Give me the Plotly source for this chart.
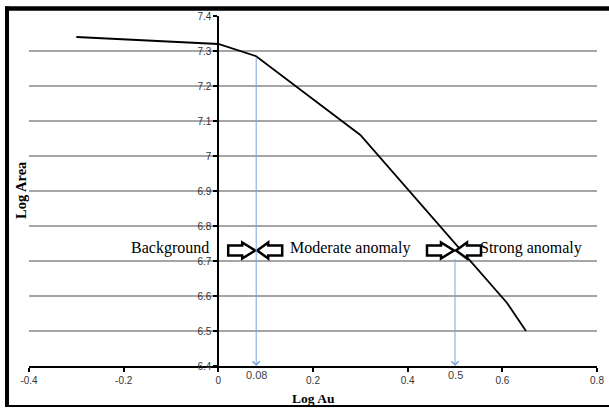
import plotly.graph_objects as go

# ---- data ----
log_au = [-0.3, 0.0, 0.08, 0.3, 0.61, 0.65]
log_area = [7.34, 7.32, 7.285, 7.06, 6.58, 6.50]

thresholds = [0.08, 0.5]
threshold_tops = [7.285, 6.71]
threshold_labels = ["0.08", "0.5"]

zone_labels = ["Background", "Moderate anomaly", "Strong anomaly"]
zone_label_x = [-0.015, 0.148, 0.549]
zone_label_y = 6.737

x_tickvals = [-0.4, -0.2, 0.0, 0.2, 0.4, 0.6, 0.8]
x_ticktext = ["-0.4", "-0.2", "0", "0.2", "0.4", "0.6", "0.8"]
y_tickvals = [6.4, 6.5, 6.6, 6.7, 6.8, 6.9, 7.0, 7.1, 7.2, 7.3, 7.4]
y_ticktext = ["6.4", "6.5", "6.6", "6.7", "6.8", "6.9", "7", "7.1", "7.2", "7.3", "7.4"]

X_RANGE = [-0.4, 0.8]
Y_RANGE = [6.4, 7.4]

W, H = 609, 408
ML, MR, MT, MB = 29, 12, 16, 42
PW, PH = W - ML - MR, H - MT - MB


def px_x(p):
    return (p - ML) / PW


def px_y(q):
    return (H - MB - q) / PH


fig = go.Figure()
fig.add_trace(go.Scatter(
    x=log_au, y=log_area, mode="lines",
    line=dict(color="black", width=1.8),
    showlegend=False, hoverinfo="skip",
))

annotations = []
shapes = []

# blue threshold arrows
for xv, top in zip(thresholds, threshold_tops):
    annotations.append(dict(
        x=xv, y=Y_RANGE[0], ax=xv, ay=top, xref="x", yref="y",
        axref="x", ayref="y", showarrow=True, arrowhead=4,
        arrowsize=1.4, arrowwidth=1, arrowcolor="#7aa5d8",
        standoff=0, startstandoff=0, text="",
    ))

# threshold value labels below axis
for xv, lab in zip(thresholds, threshold_labels):
    annotations.append(dict(
        x=xv, y=px_y(375), xref="x", yref="paper", text=lab,
        showarrow=False, xanchor="center", yanchor="middle",
        font=dict(family="Liberation Sans", size=11, color="#404040"),
    ))

# zone labels
anchors = ["right", "left", "left"]
for lab, xv, anc in zip(zone_labels, zone_label_x, anchors):
    annotations.append(dict(
        x=xv, y=zone_label_y, xref="x", yref="y", text=lab,
        showarrow=False, xanchor=anc, yanchor="middle",
        font=dict(family="Liberation Serif", size=16, color="black"),
    ))

# axis titles
annotations.append(dict(
    x=px_x(313), y=px_y(398), xref="paper", yref="paper", text="<b>Log Au</b>",
    showarrow=False, xanchor="center", yanchor="middle",
    font=dict(family="Liberation Serif", size=13.5, color="black"),
))
annotations.append(dict(
    x=px_x(21), y=px_y(190), xref="paper", yref="paper", text="<b>Log Area</b>",
    showarrow=False, xanchor="center", yanchor="middle", textangle=-90,
    font=dict(family="Liberation Serif", size=14.5, color="black"),
))

# hollow block arrows at each threshold
right_arrow = "M-28,-5 L-14,-5 L-14,-8 L-1,0 L-14,8 L-14,5 L-28,5 Z"
left_arrow = "M1,0 L12,-8 L12,-5 L26,-5 L26,5 L12,5 L12,8 Z"
for xv in thresholds:
    for pth in (right_arrow, left_arrow):
        shapes.append(dict(
            type="path", path=pth, xref="x", yref="y",
            xsizemode="pixel", ysizemode="pixel",
            xanchor=xv, yanchor=6.73,
            line=dict(color="black", width=2.5), fillcolor="white",
            layer="above",
        ))

# picture frame
shapes.append(dict(type="line", xref="paper", yref="paper",
                   x0=px_x(5), x1=px_x(609), y0=px_y(8.5), y1=px_y(8.5),
                   line=dict(color="black", width=4.5)))
shapes.append(dict(type="line", xref="paper", yref="paper",
                   x0=px_x(7), x1=px_x(7), y0=px_y(6.5), y1=px_y(407),
                   line=dict(color="black", width=4)))
shapes.append(dict(type="line", xref="paper", yref="paper",
                   x0=px_x(5), x1=px_x(609), y0=px_y(406), y1=px_y(406),
                   line=dict(color="black", width=2)))

tickfont = dict(family="Liberation Sans", size=10, color="#333333")

fig.update_layout(
    width=W, height=H,
    margin=dict(l=ML, r=MR, t=MT, b=MB, pad=0, autoexpand=False),
    paper_bgcolor="white", plot_bgcolor="white",
    xaxis=dict(
        range=X_RANGE, tickvals=x_tickvals, ticktext=x_ticktext,
        showgrid=False, zeroline=False, showline=True, automargin=False,
        linecolor="black", linewidth=2, ticks="outside", ticklen=4,
        tickwidth=1.5, tickcolor="black", tickfont=tickfont,
    ),
    yaxis=dict(
        range=Y_RANGE, tickvals=y_tickvals, ticktext=y_ticktext,
        anchor="free", position=(0 - X_RANGE[0]) / (X_RANGE[1] - X_RANGE[0]),
        showgrid=True, gridcolor="#a6a6a6", gridwidth=1.5, automargin=False,
        zeroline=False, showline=True, linecolor="black", linewidth=2,
        ticks="outside", ticklen=4, tickwidth=1.5, tickcolor="black",
        tickfont=tickfont,
    ),
    annotations=annotations,
    shapes=shapes,
)

fig.write_html(
    "out.html",
    config={"displayModeBar": False},
    post_script="document.body.style.margin='0';document.body.style.overflow='hidden';",
)
